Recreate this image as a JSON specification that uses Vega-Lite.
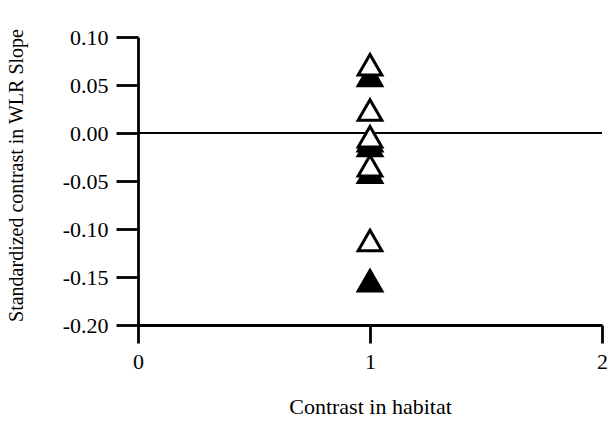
{
  "$schema": "https://vega.github.io/schema/vega-lite/v6.json",
  "autosize": {"type": "none"},
  "padding": {"left": 138, "top": 37, "right": 14, "bottom": 100},
  "width": 464,
  "height": 288,
  "background": "white",
  "config": {
    "view": {"stroke": null},
    "axis": {
      "grid": false,
      "domainColor": "black",
      "domainWidth": 2.8,
      "tickColor": "black",
      "tickWidth": 2.8,
      "labelFont": "Liberation Serif",
      "labelFontSize": 22,
      "labelColor": "black",
      "labelOverlap": false,
      "labelFlush": false,
      "titleFont": "Liberation Serif",
      "titleFontSize": 22,
      "titleFontWeight": "normal",
      "titleColor": "black"
    }
  },
  "data": {
    "values": [
      {"habitat": 1, "contrast": 0.060, "kind": "filled"},
      {"habitat": 1, "contrast": -0.008, "kind": "filled"},
      {"habitat": 1, "contrast": -0.013, "kind": "filled"},
      {"habitat": 1, "contrast": -0.041, "kind": "filled"},
      {"habitat": 1, "contrast": -0.154, "kind": "filled"},
      {"habitat": 1, "contrast": 0.071, "kind": "open"},
      {"habitat": 1, "contrast": 0.024, "kind": "open"},
      {"habitat": 1, "contrast": -0.004, "kind": "open"},
      {"habitat": 1, "contrast": -0.034, "kind": "open"},
      {"habitat": 1, "contrast": -0.112, "kind": "open"}
    ]
  },
  "layer": [
    {
      "mark": {"type": "rule", "color": "black", "strokeWidth": 2.2},
      "encoding": {"y": {"datum": 0, "type": "quantitative", "scale": {"domain": [-0.2, 0.1], "nice": false, "zero": false}}}
    },
    {
      "mark": {"type": "point", "shape": "triangle-up", "stroke": "black", "strokeWidth": 3, "size": 560, "opacity": 1, "fillOpacity": 1},
      "encoding": {
        "fill": {"field": "kind", "type": "nominal", "scale": {"domain": ["filled", "open"], "range": ["black", "white"]}, "legend": null},
        "x": {
          "field": "habitat", "type": "quantitative",
          "scale": {"domain": [0, 2], "nice": false, "zero": false},
          "axis": {
            "title": "Contrast in habitat",
            "values": [0, 1, 2],
            "labelExpr": "datum.value === 0 ? '0' : datum.value === 1 ? '1' : '2'",
            "tickSize": 18,
            "labelPadding": 8,
            "labelDx": 3,
            "titleBaseline": "alphabetic",
            "titleY": 88,
            "titleX": 232
          }
        },
        "y": {
          "field": "contrast", "type": "quantitative",
          "scale": {"domain": [-0.2, 0.1], "nice": false, "zero": false},
          "axis": {
            "title": "Standardized contrast in WLR Slope",
            "titleFontSize": 20,
            "values": [-0.2, -0.15, -0.1, -0.05, 0, 0.05, 0.1],
            "labelExpr": "replace(format(datum.value, '.2f'), '\u2212', '-')",
            "tickSize": 22,
            "labelPadding": 8,
            "titleBaseline": "alphabetic",
            "titleX": -116,
            "titleY": 138
          }
        }
      }
    }
  ]
}
